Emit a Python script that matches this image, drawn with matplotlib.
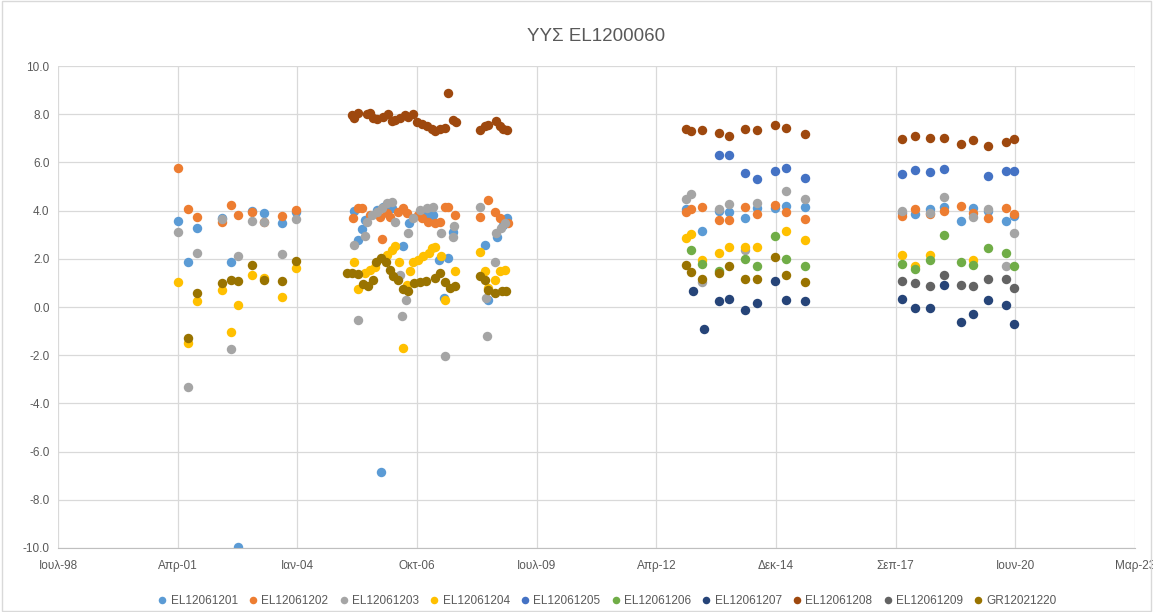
import matplotlib
matplotlib.use("Agg")
import matplotlib.pyplot as plt
import pandas as pd

# Excel date serials (days since 1899-12-30) and values per well
el01_x = [37003, 37086, 37162, 37371, 37446, 37504, 37621, 37722, 37872, 37989,
          38474, 38510, 38538, 38566, 38663, 38699, 38719, 38789, 38886, 38936,
          39081, 39136, 39187, 39226, 39259, 39298, 39568, 39596, 39666, 39716, 39750,
          41248, 41382, 41524, 41608, 41741, 41842, 41992, 42084, 42243,
          43053, 43162, 43287, 43404, 43546, 43647, 43772, 43922, 43989]
el01_y = [3.59, 1.89, 3.26, 3.71, 1.85, -9.95, 4.00, 3.89, 3.48, 3.95,
          4.00, 2.79, 3.24, 3.61, 4.03, -6.84, 4.17, 4.10, 2.54, 3.48,
          3.82, 3.82, 1.96, 0.37, 2.03, 3.13, 2.58, 0.30, 2.92, 3.41, 3.68,
          4.06, 3.14, 4.00, 3.93, 3.70, 4.12, 4.10, 4.21, 4.14,
          3.92, 3.86, 4.08, 4.15, 3.56, 4.11, 3.97, 3.59, 3.78]

el02_x = [37003, 37086, 37162, 37371, 37446, 37504, 37621, 37722, 37872, 37989,
          38463, 38510, 38538, 38607, 38691, 38705, 38747, 38775, 38844, 38886,
          38914, 39011, 39039, 39095, 39151, 39192, 39234, 39259, 39318,
          39527, 39596, 39652, 39694, 39763,
          41248, 41290, 41382, 41524, 41608, 41741, 41842, 41992, 42084, 42243,
          43053, 43162, 43287, 43404, 43546, 43647, 43772, 43922, 43989]
el02_y = [5.79, 4.06, 3.72, 3.53, 4.23, 3.82, 3.94, 3.55, 3.78, 4.03,
          3.71, 4.10, 4.10, 3.82, 3.75, 2.81, 3.89, 3.75, 3.96, 4.10,
          3.89, 3.80, 3.68, 3.54, 3.48, 3.55, 4.17, 4.15, 3.82,
          3.75, 4.44, 3.96, 3.68, 3.48,
          3.94, 4.07, 4.14, 3.61, 3.61, 4.14, 3.85, 4.22, 3.94, 3.66,
          3.78, 4.08, 3.85, 3.97, 4.18, 3.89, 3.71, 4.11, 3.85]

el03_x = [37003, 37086, 37162, 37371, 37446, 37504, 37621, 37722, 37872, 37989,
          38474, 38510, 38566, 38580, 38622, 38663, 38705, 38747, 38789, 38816,
          38858, 38877, 38906, 38927, 38964, 39025, 39081, 39136, 39198, 39234,
          39298, 39309, 39527, 39577, 39583, 39652, 39660, 39700, 39736,
          41248, 41290, 41382, 41524, 41608, 41741, 41842, 42084, 42243,
          43053, 43287, 43404, 43647, 43772, 43922, 43989]
el03_y = [3.12, -3.31, 2.26, 3.66, -1.74, 2.10, 3.59, 3.53, 2.19, 3.67,
          2.58, -0.52, 2.95, 3.54, 3.82, 3.96, 4.10, 4.30, 4.37, 3.54,
          1.34, -0.39, 0.28, 3.06, 3.68, 4.03, 4.10, 4.14, 3.09, -2.04,
          2.92, 3.37, 4.17, 0.37, -1.21, 1.89, 3.06, 3.27, 3.50,
          4.50, 4.69, 1.03, 4.08, 4.28, 2.37, 4.30, 4.80, 4.47,
          3.97, 3.90, 4.55, 3.75, 4.06, 1.72, 3.09]

el04_x = [37003, 37086, 37162, 37371, 37446, 37504, 37621, 37722, 37872, 37989,
          38474, 38510, 38566, 38607, 38649, 38747, 38789, 38816, 38852, 38881,
          38914, 38942, 38964, 39011, 39053, 39103, 39123, 39151, 39198, 39234,
          39318, 39527, 39568, 39596, 39652, 39694, 39736,
          41248, 41290, 41382, 41524, 41608, 41741, 41842, 42084, 42243,
          43053, 43162, 43287, 43647]
el04_y = [1.03, -1.49, 0.26, 0.69, -1.03, 0.10, 1.31, 1.20, 0.43, 1.60,
          1.86, 0.74, 1.41, 1.54, 1.66, 2.17, 2.37, 2.55, 1.85, -1.70,
          0.92, 1.48, 1.85, 1.96, 2.10, 2.23, 2.44, 2.51, 2.10, 0.30,
          1.48, 2.30, 1.48, 0.79, 1.13, 1.48, 1.54,
          2.86, 3.03, 1.94, 2.25, 2.50, 2.48, 2.50, 3.17, 2.79,
          2.14, 1.72, 2.18, 1.94]

el05_x = [41524, 41608, 41741, 41842, 41992, 42084, 42243,
          43053, 43162, 43287, 43404, 43772, 43922, 43989]
el05_y = [6.30, 6.30, 5.57, 5.32, 5.63, 5.77, 5.37,
          5.54, 5.68, 5.60, 5.72, 5.43, 5.63, 5.66]

el06_x = [41290, 41382, 41524, 41741, 41842, 41992, 42084, 42243,
          43053, 43162, 43287, 43404, 43546, 43647, 43772, 43922, 43989]
el06_y = [2.37, 1.79, 1.49, 1.99, 1.70, 2.94, 2.01, 1.70,
          1.78, 1.57, 1.96, 2.97, 1.89, 1.75, 2.44, 2.25, 1.71]

el07_x = [41307, 41399, 41524, 41608, 41741, 41842, 41992, 42084, 42243,
          43053, 43162, 43287, 43404, 43546, 43647, 43772, 43922, 43989]
el07_y = [0.65, -0.91, 0.23, 0.33, -0.11, 0.17, 1.10, 0.30, 0.25,
          0.33, -0.06, -0.03, 0.90, -0.63, -0.29, 0.30, 0.10, -0.70]

el08_x = [38454, 38476, 38510, 38580, 38607, 38635, 38663, 38719, 38755, 38789,
          38816, 38858, 38900, 38927, 38969, 38998, 39039, 39081, 39123, 39151,
          39192, 39234, 39259, 39298, 39326, 39527, 39568, 39596, 39660, 39694,
          39721, 39750,
          41248, 41290, 41382, 41524, 41608, 41741, 41842, 41992, 42084, 42243,
          43053, 43162, 43287, 43404, 43546, 43647, 43772, 43922, 43989]
el08_y = [7.96, 7.86, 8.06, 8.03, 8.06, 7.86, 7.82, 7.89, 8.00, 7.71,
          7.78, 7.86, 7.96, 7.89, 8.03, 7.68, 7.61, 7.50, 7.41, 7.30,
          7.41, 7.43, 8.88, 7.78, 7.66, 7.34, 7.50, 7.54, 7.74, 7.52,
          7.41, 7.34,
          7.41, 7.31, 7.34, 7.23, 7.10, 7.39, 7.34, 7.56, 7.43, 7.17,
          6.98, 7.10, 7.02, 7.02, 6.76, 6.95, 6.69, 6.84, 6.97]

el09_x = [43053, 43162, 43287, 43404, 43546, 43647, 43772, 43922, 43989]
el09_y = [1.09, 0.99, 0.87, 1.31, 0.90, 0.87, 1.17, 1.17, 0.77]

gr20_x = [37086, 37162, 37371, 37446, 37504, 37621, 37722, 37872, 37989,
          38413, 38454, 38510, 38551, 38593, 38635, 38658, 38697, 38741, 38775,
          38797, 38844, 38886, 38927, 38975, 39025, 39075, 39151, 39192, 39234,
          39276, 39318, 39527, 39568, 39596, 39652, 39708, 39744,
          41248, 41290, 41382, 41524, 41608, 41741, 41842, 41992, 42084, 42243]
gr20_y = [-1.30, 0.57, 0.98, 1.13, 1.08, 1.75, 1.13, 1.10, 1.90,
          1.43, 1.41, 1.38, 0.97, 0.86, 1.13, 1.85, 2.03, 1.85, 1.54,
          1.27, 1.13, 0.74, 0.65, 0.99, 1.06, 1.10, 1.20, 1.41, 1.06,
          0.79, 0.86, 1.27, 1.13, 0.72, 0.58, 0.65, 0.65,
          1.75, 1.45, 1.16, 1.41, 1.72, 1.16, 1.16, 2.08, 1.34, 1.06]

series_names = ["EL12061201", "EL12061202", "EL12061203", "EL12061204", "EL12061205",
                "EL12061206", "EL12061207", "EL12061208", "EL12061209", "GR12021220"]
series_x = [el01_x, el02_x, el03_x, el04_x, el05_x, el06_x, el07_x, el08_x, el09_x, gr20_x]
series_y = [el01_y, el02_y, el03_y, el04_y, el05_y, el06_y, el07_y, el08_y, el09_y, gr20_y]
colors = ["#5B9BD5", "#ED7D31", "#A5A5A5", "#FFC000", "#4472C4",
          "#70AD47", "#264478", "#9E480E", "#636363", "#997300"]

tick_serials = [36000, 37000, 38000, 39000, 40000, 41000, 42000, 43000, 44000, 45000]
tick_labels = ["Ιουλ-98", "Απρ-01", "Ιαν-04", "Οκτ-06", "Ιουλ-09",
               "Απρ-12", "Δεκ-14", "Σεπ-17", "Ιουν-20", "Μαρ-23"]


def to_dates(serials):
    return pd.to_datetime(serials, unit="D", origin="1899-12-30")


plt.rcParams['font.family'] = ['Liberation Sans', 'DejaVu Sans']

fig = plt.figure(figsize=(11.53, 6.12), dpi=100)
ax = fig.add_axes([0.0503, 0.1046, 0.9341, 0.7874])

for name, xs, ys, c in zip(series_names, series_x, series_y, colors):
    ax.plot(to_dates(xs), ys, linestyle="none", marker="o", markersize=6.8,
            markeredgewidth=0, color=c, label=name)

ticks = to_dates(tick_serials)
ax.set_xlim(ticks[0], ticks[-1])
ax.set_xticks(ticks)
ax.set_xticklabels(tick_labels)
ax.set_ylim(-10, 10)
ax.set_yticks(range(-10, 11, 2))
ax.set_yticklabels([f"{v:.1f}" for v in range(-10, 11, 2)])

ax.grid(True, color="#D9D9D9", linewidth=0.9)
ax.set_axisbelow(True)
for side in ["top", "right", "left"]:
    ax.spines[side].set_visible(False)
ax.spines["bottom"].set_color("#BFBFBF")
ax.tick_params(axis="both", length=0, labelsize=8.5, colors="#595959")
ax.tick_params(axis="x", pad=9)
ax.tick_params(axis="y", pad=6)

ax.set_title("ΥΥΣ EL1200060", fontsize=13.5, color="#595959", pad=18)

ax.legend(loc="upper center", bbox_to_anchor=(0.51, -0.075), ncol=10, frameon=False,
          fontsize=8.5, labelcolor="#595959", handlelength=0.8, handletextpad=0.3,
          columnspacing=0.9, markerscale=0.8)

fig.patches.append(plt.Rectangle((0.002, 0.002), 0.996, 0.996, transform=fig.transFigure,
                                 fill=False, edgecolor="#D9D9D9", linewidth=1))

fig.savefig("out.png", dpi=100)
